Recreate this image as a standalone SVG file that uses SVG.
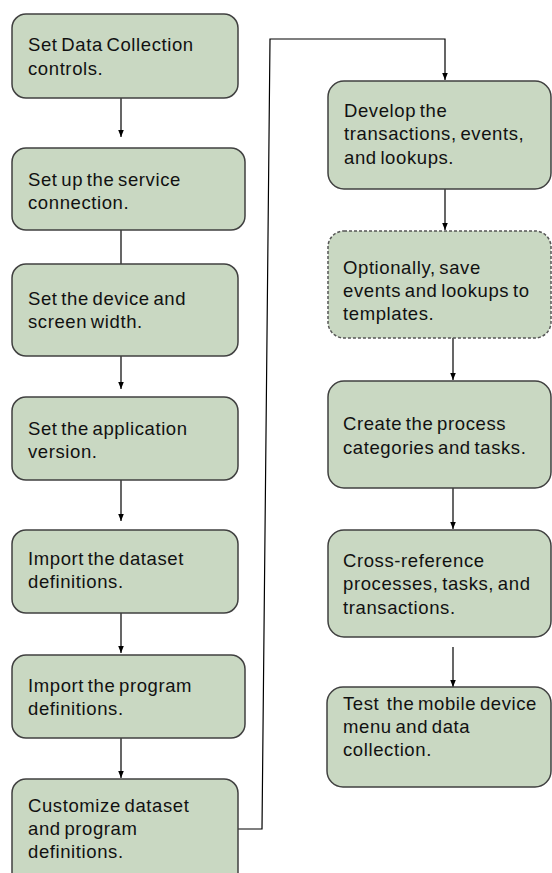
<svg xmlns="http://www.w3.org/2000/svg" width="552" height="873" viewBox="0 0 552 873">
<style>
.box{fill:#c9d8c2;stroke:#404040;stroke-width:1.5}
.dash{stroke-dasharray:3 2;stroke:#555}
.t{font-family:"Liberation Sans",Arial,sans-serif;font-size:18.5px;fill:#111;letter-spacing:0.6px;word-spacing:-2px}
.c{fill:none;stroke:#000;stroke-width:1.2}
</style>
<defs>
<marker id="ah" markerUnits="userSpaceOnUse" markerWidth="7" markerHeight="7" viewBox="0 0 10 10" refX="10" refY="5" orient="auto">
<path d="M0,1 L10,5 L0,9 z" fill="#000"/>
</marker>
</defs>
<rect width="552" height="873" fill="#fff"/>
<g id="connectors">
<path class="c" d="M121,98 V137" marker-end="url(#ah)"/>
<path class="c" d="M121,230 V264"/>
<path class="c" d="M121,356 V389" marker-end="url(#ah)"/>
<path class="c" d="M121,480 V521" marker-end="url(#ah)"/>
<path class="c" d="M121,613 V653" marker-end="url(#ah)"/>
<path class="c" d="M121,738 V778" marker-end="url(#ah)"/>
<path class="c" d="M238,829 H262 L270,39 H445 V80" marker-end="url(#ah)"/>
<path class="c" d="M445,189 V230" marker-end="url(#ah)"/>
<path class="c" d="M453,338 V380" marker-end="url(#ah)"/>
<path class="c" d="M453,488 V529" marker-end="url(#ah)"/>
<path class="c" d="M453,647 V687" marker-end="url(#ah)"/>
</g>
<g id="n1"><rect class="box" x="12" y="14" width="226" height="84" rx="14"/>
<text class="t" x="28" y="51">Set Data Collection</text><text class="t" x="28" y="75">controls.</text></g>
<g id="n2"><rect class="box" x="12" y="148" width="233" height="82" rx="14"/>
<text class="t" x="28" y="185.5">Set up the service</text><text class="t" x="28" y="208.5">connection.</text></g>
<g id="n3"><rect class="box" x="12" y="264" width="226" height="92" rx="14"/>
<text class="t" x="28" y="305">Set the device and</text><text class="t" x="28" y="328">screen width.</text></g>
<g id="n4"><rect class="box" x="12" y="397" width="226" height="83" rx="14"/>
<text class="t" x="28" y="435">Set the application</text><text class="t" x="28" y="457.5">version.</text></g>
<g id="n5"><rect class="box" x="12" y="530" width="226" height="83" rx="14"/>
<text class="t" x="28" y="565">Import the dataset</text><text class="t" x="28" y="588">definitions.</text></g>
<g id="n6"><rect class="box" x="12" y="655" width="233" height="83" rx="14"/>
<text class="t" x="28" y="691.5">Import the program</text><text class="t" x="28" y="715">definitions.</text></g>
<g id="n7"><rect class="box" x="12" y="779" width="226" height="110" rx="14"/>
<text class="t" x="28" y="811.5">Customize dataset</text><text class="t" x="28" y="835">and program</text><text class="t" x="28" y="858">definitions.</text></g>
<g id="n8"><rect class="box" x="328" y="81" width="223" height="108" rx="16"/>
<text class="t" x="344" y="116.5">Develop the</text><text class="t" x="344" y="140">transactions, events,</text><text class="t" x="344" y="163.5">and lookups.</text></g>
<g id="n9"><rect class="box dash" x="328" y="231" width="223" height="107" rx="16"/>
<text class="t" x="343" y="273.5">Optionally, save</text><text class="t" x="343" y="297">events and lookups to</text><text class="t" x="343" y="320">templates.</text></g>
<g id="n10"><rect class="box" x="328" y="381" width="223" height="107" rx="16"/>
<text class="t" x="343" y="430">Create the process</text><text class="t" x="343" y="453.5">categories and tasks.</text></g>
<g id="n11"><rect class="box" x="328" y="530" width="223" height="107" rx="16"/>
<text class="t" x="343" y="566.5">Cross-reference</text><text class="t" x="343" y="590">processes, tasks, and</text><text class="t" x="343" y="613.5">transactions.</text></g>
<g id="n12"><rect class="box" x="327" y="687" width="224" height="100" rx="16"/>
<text class="t" x="343" y="710" xml:space="preserve">Test  the mobile device</text><text class="t" x="343" y="733">menu and data</text><text class="t" x="343" y="755.5">collection.</text></g>
</svg>
